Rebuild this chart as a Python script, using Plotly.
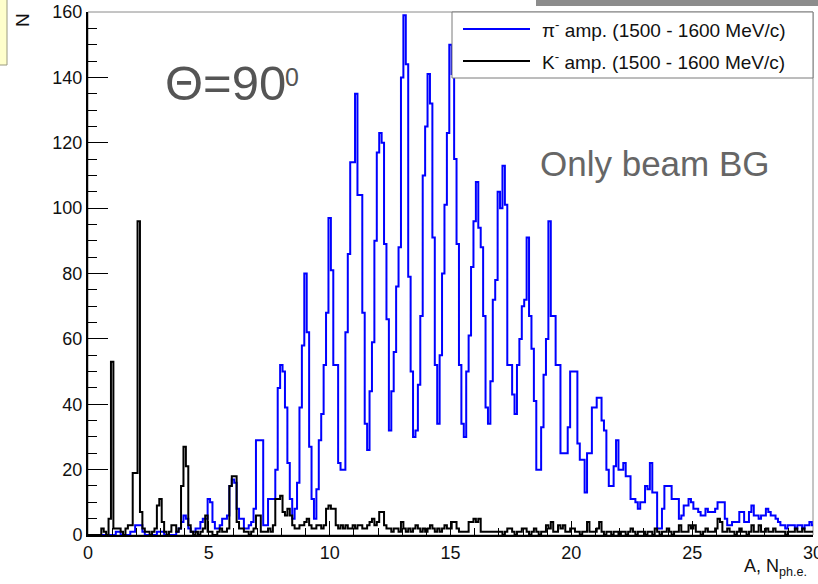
import numpy as np
import plotly.graph_objects as go

# ---------------- data (bin width 0.1, bins centred on 0.0, 0.1, ... 30.0) ----------------
BIN_WIDTH = 0.1

# pi- amplitude histogram, one row per unit interval [n, n+1)
pion_rows = [
    [0, 0, 0, 0, 0, 0, 0, 0, 0, 0],
    [0, 0, 1, 1, 0, 0, 0, 0, 1, 1],
    [3, 3, 3, 1, 0, 0, 0, 0, 0, 1],
    [1, 1, 0, 0, 0, 0, 0, 1, 2, 4],
    [6, 5, 2, 1, 1, 2, 2, 4, 5, 5],
    [11, 10, 4, 2, 2, 3, 5, 5, 6, 15],
    [17, 16, 8, 5, 5, 2, 2, 3, 4, 8],
    [29, 29, 29, 3, 3, 11, 11, 11, 20, 45],
    [52, 50, 39, 22, 11, 5, 8, 16, 39, 58],
    [80, 62, 27, 11, 5, 14, 29, 37, 52, 68],
    [97, 81, 52, 52, 22, 20, 20, 62, 86, 114],
    [114, 135, 104, 104, 68, 34, 26, 44, 59, 90],
    [117, 123, 120, 89, 66, 32, 44, 56, 76, 88],
    [140, 159, 144, 79, 50, 30, 32, 46, 67, 110],
    [125, 141, 132, 91, 52, 34, 55, 80, 101, 123],
    [150, 141, 115, 89, 52, 34, 30, 50, 61, 82],
    [96, 108, 94, 88, 67, 39, 34, 47, 72, 78],
    [105, 100, 113, 101, 52, 52, 43, 37, 52, 60],
    [70, 72, 91, 67, 57, 41, 20, 20, 33, 49],
    [60, 96, 67, 67, 52, 52, 25, 25, 25, 33],
    [50, 50, 50, 28, 23, 23, 13, 25, 25, 39],
    [39, 42, 42, 35, 32, 20, 15, 15, 21, 29],
    [20, 20, 22, 18, 18, 11, 11, 10, 8, 10],
    [10, 15, 14, 22, 13, 13, 2, 2, 8, 15],
    [15, 15, 11, 11, 11, 5, 6, 9, 9, 11],
    [10, 8, 8, 7, 6, 6, 8, 7, 7, 7],
    [8, 10, 10, 10, 5, 3, 3, 4, 4, 4],
    [7, 7, 4, 4, 7, 9, 6, 6, 5, 6],
    [6, 8, 7, 6, 6, 5, 4, 3, 3, 2],
    [3, 3, 3, 2, 3, 3, 2, 3, 3, 4],
    [3],
]

# K- amplitude histogram, one row per unit interval [n, n+1)
kaon_rows = [
    [0, 0, 0, 0, 0, 0, 2, 1, 0, 5],
    [53, 2, 2, 2, 1, 0, 2, 3, 3, 19],
    [19, 96, 7, 2, 1, 1, 0, 1, 2, 9],
    [11, 4, 1, 0, 1, 3, 3, 1, 2, 15],
    [27, 21, 3, 1, 0, 1, 0, 1, 2, 6],
    [1, 1, 0, 0, 1, 2, 1, 1, 2, 15],
    [18, 18, 4, 2, 2, 1, 1, 0, 1, 2],
    [6, 6, 1, 1, 1, 2, 1, 3, 11, 11],
    [12, 7, 6, 8, 6, 3, 2, 2, 3, 3],
    [4, 5, 3, 2, 2, 3, 3, 2, 3, 8],
    [9, 8, 8, 3, 2, 3, 2, 3, 2, 2],
    [3, 2, 3, 3, 2, 2, 3, 4, 5, 3],
    [4, 7, 7, 3, 2, 2, 1, 2, 2, 1],
    [4, 2, 1, 2, 1, 2, 3, 2, 1, 2],
    [1, 2, 3, 2, 1, 2, 1, 2, 3, 2],
    [2, 4, 4, 2, 1, 1, 1, 1, 4, 4],
    [5, 4, 5, 1, 1, 1, 1, 1, 1, 1],
    [1, 1, 0, 1, 2, 2, 1, 0, 1, 1],
    [2, 2, 1, 0, 1, 2, 1, 0, 1, 1],
    [3, 2, 4, 1, 1, 3, 2, 3, 1, 1],
    [2, 2, 1, 1, 0, 1, 1, 4, 1, 1],
    [1, 2, 4, 1, 0, 1, 1, 0, 1, 1],
    [0, 1, 1, 0, 1, 2, 1, 0, 1, 1],
    [1, 0, 1, 1, 0, 2, 1, 0, 1, 1],
    [2, 1, 0, 1, 1, 3, 1, 1, 1, 3],
    [2, 3, 1, 1, 0, 1, 2, 1, 1, 1],
    [2, 5, 4, 1, 1, 2, 1, 1, 0, 1],
    [2, 1, 1, 0, 1, 3, 1, 1, 3, 1],
    [1, 2, 1, 1, 2, 1, 1, 1, 1, 0],
    [1, 1, 1, 2, 1, 1, 2, 1, 1, 1],
    [1],
]

x_ticks = [0, 5, 10, 15, 20, 25, 30]
y_ticks = [0, 20, 40, 60, 80, 100, 120, 140, 160]
legend_labels = ["π<sup>-</sup> amp. (1500 - 1600 MeV/c)", "K<sup>-</sup> amp. (1500 - 1600 MeV/c)"]

pion_counts = [v for row in pion_rows for v in row]
kaon_counts = [v for row in kaon_rows for v in row]


def step_xy(counts):
    centers = np.arange(len(counts)) * BIN_WIDTH
    left = centers - BIN_WIDTH / 2
    xs = list(left) + [left[-1] + BIN_WIDTH]
    ys = list(counts) + [counts[-1]]
    return xs, ys


FONT = "Liberation Sans, Arial, Helvetica, sans-serif"

fig = go.Figure()
px_, py_ = step_xy(pion_counts)
fig.add_trace(go.Scatter(x=px_, y=py_, mode="lines", line=dict(shape="hv", color="#0000ff", width=2),
                         showlegend=False, hoverinfo="skip"))
kx, ky = step_xy(kaon_counts)
fig.add_trace(go.Scatter(x=kx, y=ky, mode="lines", line=dict(shape="hv", color="#000000", width=2),
                         showlegend=False, hoverinfo="skip"))

# plot area geometry in pixels
L, R, T, B = 88, 813, 12, 535
W, H = R - L, B - T


def pxx(p):
    return (p - L) / W


def pxy(p):
    return (B - p) / H


shapes = [
    # thin grey frame
    dict(type="rect", xref="paper", yref="paper", x0=0, x1=1, y0=0, y1=1,
         line=dict(color="#8a8a8a", width=1), layer="below"),
    # legend box
    dict(type="rect", xref="paper", yref="paper", x0=pxx(452), x1=pxx(813), y0=pxy(78), y1=pxy(12),
         line=dict(color="#7a7a7a", width=1), fillcolor="white", layer="above"),
    dict(type="line", xref="paper", yref="paper", x0=pxx(463), x1=pxx(530), y0=pxy(29), y1=pxy(29),
         line=dict(color="#0000ff", width=2), layer="above"),
    dict(type="line", xref="paper", yref="paper", x0=pxx(463), x1=pxx(530), y0=pxy(61), y1=pxy(61),
         line=dict(color="#000000", width=2), layer="above"),
    # slide decorations: yellow note box corner (top-left) and grey shadow (top-right)
    dict(type="rect", xref="paper", yref="paper", x0=pxx(-4), x1=pxx(7), y0=pxy(65), y1=pxy(-4),
         line=dict(color="#9a9a80", width=1), fillcolor="#ffffcc", layer="above"),
    dict(type="rect", xref="paper", yref="paper", x0=pxx(536), x1=pxx(820), y0=pxy(6), y1=pxy(-2),
         line=dict(width=0), fillcolor="#8c8c8c", layer="above"),
]

annotations = [
    dict(text=legend_labels[0], xref="paper", yref="paper", x=pxx(540), y=pxy(29), xanchor="left",
         yanchor="middle", showarrow=False, font=dict(family=FONT, size=19, color="#111")),
    dict(text=legend_labels[1], xref="paper", yref="paper", x=pxx(540), y=pxy(61), xanchor="left",
         yanchor="middle", showarrow=False, font=dict(family=FONT, size=19, color="#111")),
    dict(text="Θ=90", xref="paper", yref="paper",
         x=pxx(163), y=pxy(83), xanchor="left",
         yanchor="middle", showarrow=False, font=dict(family=FONT, size=49, color="#555555")),
    dict(text="0", xref="paper", yref="paper",
         x=pxx(283), y=pxy(77), xanchor="left",
         yanchor="middle", showarrow=False, font=dict(family=FONT, size=25, color="#555555")),
    dict(text="Only beam BG", xref="paper", yref="paper", x=pxx(538), y=pxy(163), xanchor="left",
         yanchor="middle", showarrow=False, font=dict(family=FONT, size=35, color="#666666")),
    dict(text="N", xref="paper", yref="paper", x=pxx(23), y=pxy(20), xanchor="center",
         yanchor="middle", textangle=-90, showarrow=False, font=dict(family=FONT, size=19, color="#111")),
    dict(text="A, N<sub>ph.e.</sub>", xref="paper", yref="paper", x=pxx(742), y=pxy(568), xanchor="left",
         yanchor="middle", showarrow=False, font=dict(family=FONT, size=18, color="#111")),
]

fig.update_layout(
    width=818, height=584,
    margin=dict(l=L, r=818 - R, t=T, b=584 - B, pad=0, autoexpand=False),
    paper_bgcolor="white", plot_bgcolor="white",
    shapes=shapes, annotations=annotations, showlegend=False,
    font=dict(family=FONT, size=17, color="#111"),
)
fig.update_xaxes(range=[0, 30], tickvals=x_ticks, ticktext=[str(v) for v in x_ticks],
                 showline=True, linecolor="black", linewidth=2, mirror=False,
                 ticks="inside", ticklen=14, tickwidth=1, tickcolor="black",
                 minor=dict(dtick=1, tick0=0, ticks="inside", ticklen=7, tickcolor="black", showgrid=False),
                 showgrid=False, zeroline=False, ticklabeloverflow="allow", automargin=False,
                 tickfont=dict(family=FONT, size=18, color="#111"))
fig.update_yaxes(range=[0, 160], tickvals=y_ticks, ticktext=[str(v) for v in y_ticks],
                 showline=True, linecolor="black", linewidth=2, mirror=False,
                 ticks="inside", ticklen=20, tickwidth=1, tickcolor="black",
                 minor=dict(dtick=5, tick0=0, ticks="inside", ticklen=9, tickcolor="black", showgrid=False),
                 showgrid=False, zeroline=False, automargin=False,
                 tickfont=dict(family=FONT, size=18, color="#111"))

fig.write_html("out.html")
